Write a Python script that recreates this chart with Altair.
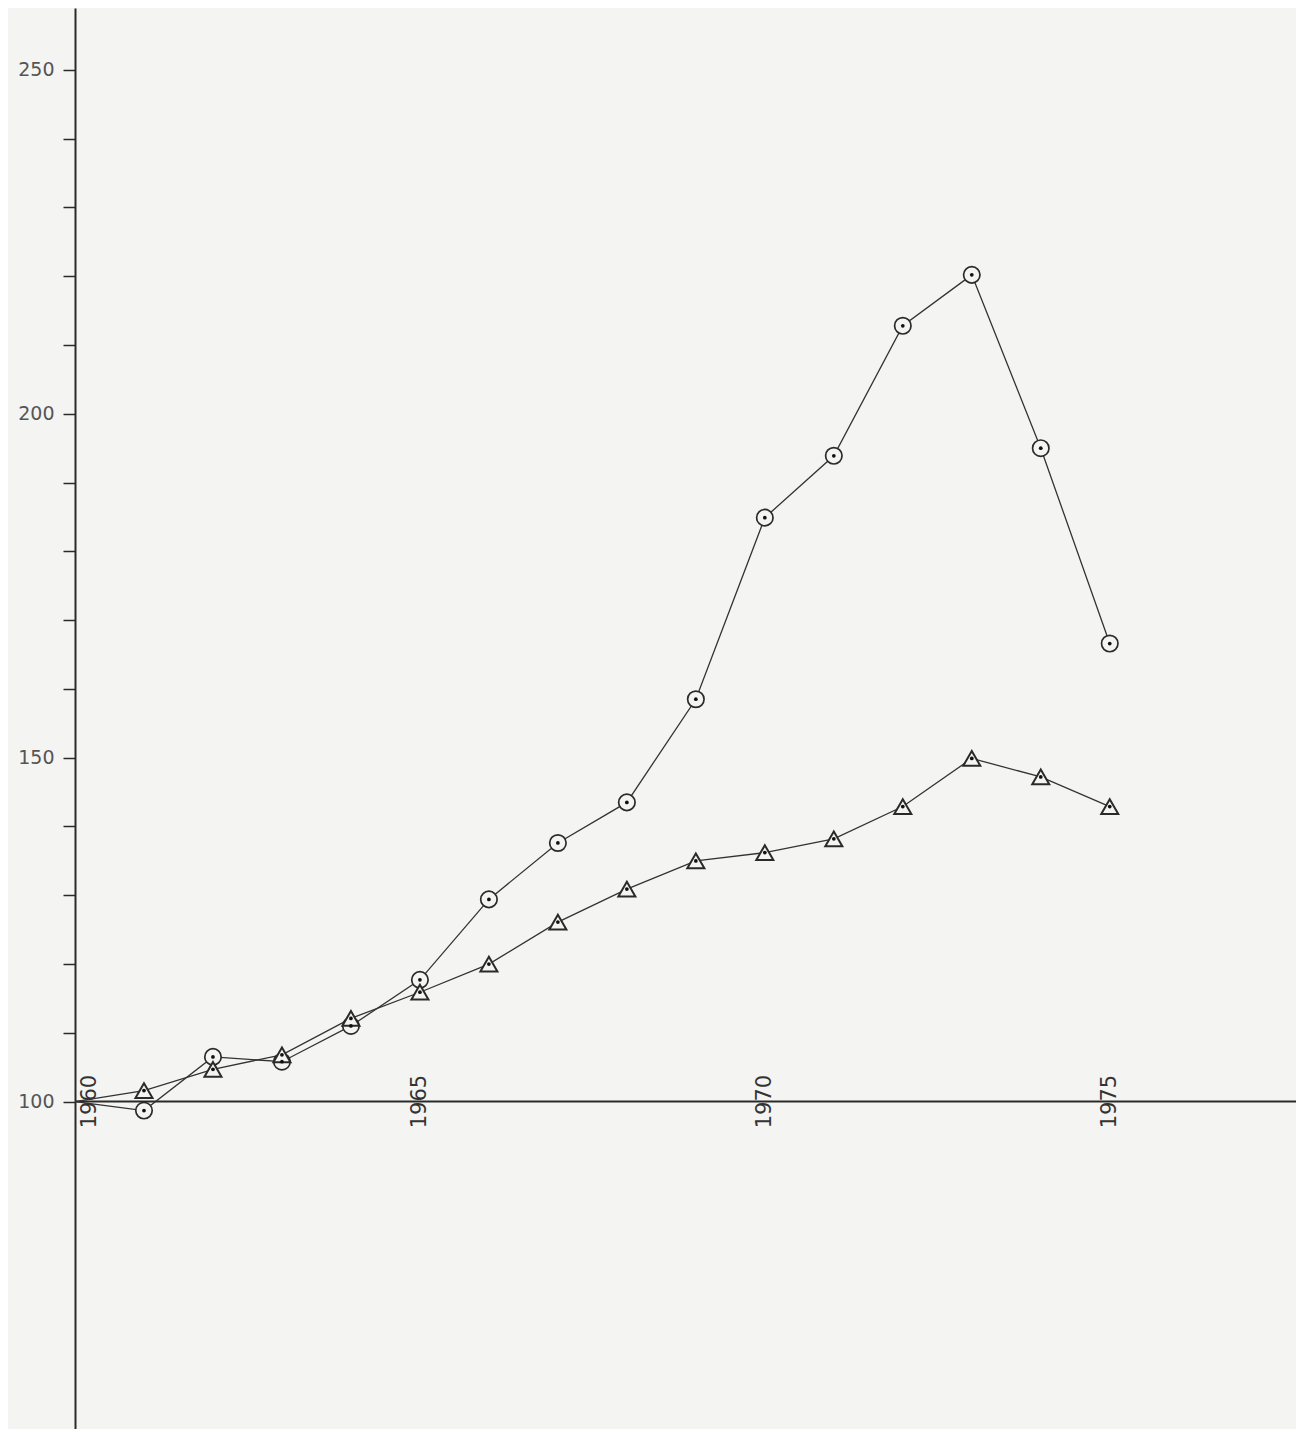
import altair as alt
import pandas as pd

years = list(range(1960, 1976))
circle_values = [100, 98.7, 106.5, 105.8, 111.0, 117.7, 129.4, 137.6, 143.5,
                 158.5, 184.9, 193.9, 212.8, 220.2, 195.0, 166.6]
triangle_values = [100, 101.6, 104.7, 106.8, 112.1, 115.9, 120.0, 126.1, 130.9,
                   135.0, 136.2, 138.2, 142.9, 149.9, 147.2, 142.9]
year_labels = [1960, 1965, 1970, 1975]
y_ticks = list(range(100, 260, 10))
baseline = [100]

BG = "#f4f4f2"
INK = "#2a2a2a"

df = pd.DataFrame({
    "year": years * 2,
    "value": circle_values + triangle_values,
    "series": ["circle"] * len(years) + ["triangle"] * len(years),
})
lab = pd.DataFrame({"year": year_labels, "value": [100] * len(year_labels)})
base_df = pd.DataFrame({"value": baseline})

xs = alt.Scale(domain=[1960, 1977.7], nice=False, zero=False)
ys = alt.Scale(domain=[52.4, 259.0], nice=False, zero=False)

X = alt.X("year:Q", scale=xs, axis=None)
Y = alt.Y("value:Q", scale=ys,
          axis=alt.Axis(values=y_ticks, title=None, grid=False,
                        labelExpr="datum.value % 50 == 0 ? datum.label : ''",
                        domainColor=INK, domainWidth=2, tickColor=INK,
                        tickWidth=1.5, tickSize=12, labelPadding=9,
                        labelFont="DejaVu Sans", labelFontSize=19,
                        labelColor="#555555"))

rule = alt.Chart(base_df).mark_rule(color=INK, strokeWidth=2).encode(
    y=alt.Y("value:Q", scale=ys))

lines = alt.Chart(df).mark_line(color="#333333", strokeWidth=1.3).encode(
    x=X, y=Y, detail="series:N")

pts = df[df["year"] > 1960]
circles = alt.Chart(pts[pts["series"] == "circle"]).mark_point(
    shape="circle", size=270, filled=True, fill=BG, stroke=INK,
    strokeWidth=1.7, opacity=1).encode(x=X, y=alt.Y("value:Q", scale=ys))
tris = alt.Chart(pts[pts["series"] == "triangle"]).mark_point(
    shape="triangle-up", size=290, filled=True, fill=BG, stroke=INK,
    strokeWidth=2, opacity=1).encode(x=X, y=alt.Y("value:Q", scale=ys))
dots = alt.Chart(pts).mark_point(shape="circle", size=14, filled=True,
                                 color="#111111", opacity=1).encode(
    x=X, y=alt.Y("value:Q", scale=ys))

labels = alt.Chart(lab[lab["year"] > 1960]).mark_text(
    angle=270, align="center", baseline="middle", font="DejaVu Sans",
    fontSize=21, color="#333333").encode(
    x=X, y=alt.Y("value:Q", scale=ys), text="year:N")
label0 = alt.Chart(lab[lab["year"] == 1960]).mark_text(
    angle=270, align="center", baseline="middle", font="DejaVu Sans",
    fontSize=21, color="#333333", dy=15).encode(
    x=X, y=alt.Y("value:Q", scale=ys), text="year:N")

chart = alt.layer(rule, lines, circles, tris, dots, labels, label0).properties(
    width=1221, height=1421,
    autosize=alt.AutoSizeParams(type="none"),
    padding={"left": 67, "top": 0, "right": 0, "bottom": 0},
    background=BG,
).configure_view(stroke=None)

chart.save("out.html", embed_options={"renderer": "svg", "actions": False})
